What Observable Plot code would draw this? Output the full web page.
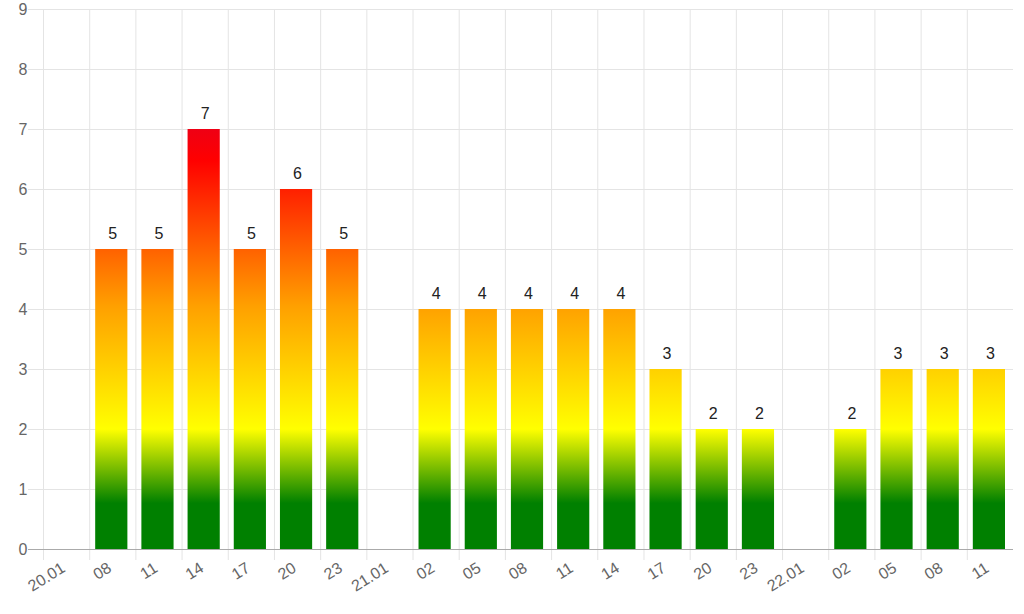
<!DOCTYPE html>
<html><head><meta charset="utf-8">
<script src="https://cdn.jsdelivr.net/npm/d3@7"></script>
<script src="https://cdn.jsdelivr.net/npm/@observablehq/plot@0.6"></script>
<style>
html,body{margin:0;padding:0;background:#fff;}
#chart{width:1024px;height:614px;overflow:hidden;}
</style>
</head><body><div id="chart"></div>
<script>
const labels = ["20.01","08","11","14","17","20","23","21.01","02","05","08","11","14","17","20","23","22.01","02","05","08","11"];
const values = [null,5,5,7,5,6,5,null,4,4,4,4,4,3,2,2,null,2,3,3,3];
const yTicks = [0,1,2,3,4,5,6,7,8,9];
const gradientStops = [
  {offset: 0, color: "#008000"},
  {offset: 0.085, color: "#008000"},
  {offset: 0.222, color: "#ffff00"},
  {offset: 0.45, color: "#ffa000"},
  {offset: 0.72, color: "#ff0000"},
  {offset: 0.8, color: "#e8001c"},
  {offset: 1, color: "#c00030"}
];

const data = labels.map((label, i) => ({i, label, value: values[i]}));
const bars = data.filter(d => d.value != null);
const gridX = d3.range(0, labels.length);
const font = "'Liberation Sans', Arial, Helvetica, sans-serif";
const gridColor = "#e4e4e4";

const chart = Plot.plot({
  width: 1024,
  height: 614,
  marginLeft: 43,
  marginRight: 11,
  marginTop: 9,
  marginBottom: 65,
  style: {fontFamily: font, fontSize: "16px", background: "#fff", overflow: "visible"},
  x: {type: "linear", domain: [0, labels.length], axis: null},
  y: {domain: [0, 9], axis: null},
  marks: [
    Plot.gridY(yTicks, {stroke: gridColor, strokeOpacity: 1}),
    Plot.gridX(gridX, {stroke: gridColor, strokeOpacity: 1}),
    Plot.axisY({ticks: yTicks, tickSize: 15, tickFormat: () => "", stroke: gridColor, label: null}),
    Plot.axisX({ticks: gridX, tickSize: 11, tickFormat: () => "", stroke: gridColor, label: null}),
    Plot.axisY({ticks: yTicks, tickSize: 0, tickPadding: 16, fill: "#666", color: "#666", fontSize: 16, label: null}),
    Plot.rectY(bars, {x1: d => d.i, x2: d => d.i + 1, y: "value", insetLeft: 6, insetRight: 8, fill: "url(#barGradient)"}),
    Plot.ruleY([0], {stroke: "#aaa", insetLeft: -15}),
    Plot.text(bars, {x: d => d.i + 0.5, y: "value", text: d => String(d.value), dy: -16, fill: "#222", fontSize: 16}),
    Plot.text(data, {x: d => d.i + 0.5, y: () => 0, text: "label", rotate: -32, textAnchor: "end", dx: -3, dy: 17, fill: "#666", fontSize: 16})
  ]
});

const y = chart.scale("y");
const svg = d3.select(chart.tagName.toLowerCase() === "svg" ? chart : chart.querySelector("svg"));
const defs = svg.insert("defs", ":first-child");
const grad = defs.append("linearGradient")
  .attr("id", "barGradient")
  .attr("gradientUnits", "userSpaceOnUse")
  .attr("x1", 0).attr("x2", 0)
  .attr("y1", y.apply(0)).attr("y2", y.apply(9));
grad.selectAll("stop").data(gradientStops).join("stop")
  .attr("offset", d => d.offset)
  .attr("stop-color", d => d.color);

document.getElementById("chart").appendChild(chart);
</script>
</body></html>
